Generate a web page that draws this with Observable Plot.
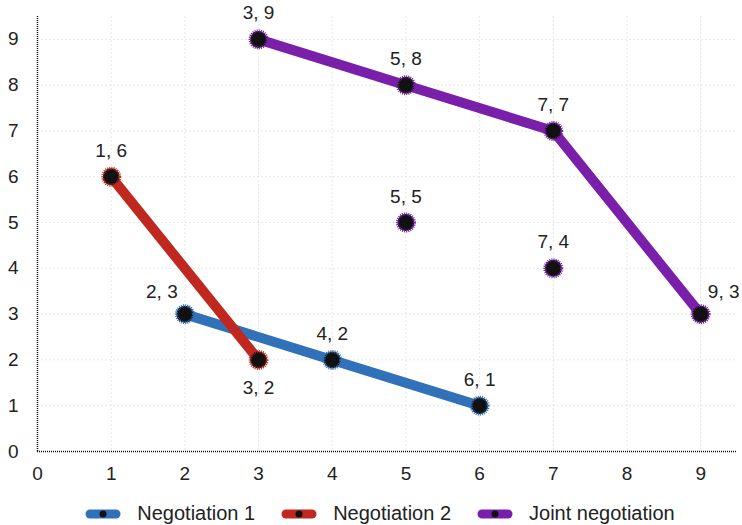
<!DOCTYPE html>
<html><head><meta charset="utf-8">
<script src="https://cdn.jsdelivr.net/npm/d3@7"></script>
<script src="https://cdn.jsdelivr.net/npm/@observablehq/plot@0.6"></script>
<style>
body{margin:0;background:#fff;font-family:"Liberation Sans",sans-serif;}
#legend{display:flex;justify-content:center;gap:26px;font-size:20px;color:#222;margin-top:12px;padding-left:18px}
#legend span.item{display:flex;align-items:center;gap:16px}
</style>
</head><body>
<div id="chart"></div>
<div id="legend"></div>
<script>
const seriesNames = ["Negotiation 1", "Negotiation 2", "Joint negotiation"];
const colors = ["#3171b9", "#c0281f", "#7a1fa9"];
const neg1X = [2, 4, 6], neg1Y = [3, 2, 1];
const neg2X = [1, 3], neg2Y = [6, 2];
const jointX = [3, 5, 7, 9], jointY = [9, 8, 7, 3];
const jointExtraX = [5, 7], jointExtraY = [5, 4];
const xTicks = [0,1,2,3,4,5,6,7,8,9];
const yTicks = [0,1,2,3,4,5,6,7,8,9];

const lineData = [
  ...neg1X.map((x,i)=>({x, y:neg1Y[i], s:seriesNames[0]})),
  ...neg2X.map((x,i)=>({x, y:neg2Y[i], s:seriesNames[1]})),
  ...jointX.map((x,i)=>({x, y:jointY[i], s:seriesNames[2]}))
];
const pointData = [
  ...lineData,
  ...jointExtraX.map((x,i)=>({x, y:jointExtraY[i], s:seriesNames[2]}))
];
function place(d){
  const k = d.x+","+d.y;
  if (d.s===seriesNames[1] && k==="3,2") return "below";
  if (k==="2,3") return "aboveleft";
  if (k==="9,3") return "aboveright";
  return "above";
}
const lbl = p => pointData.filter(d=>place(d)===p);
const fmt = d => d.x + ", " + d.y;
const font = {fontSize:19, fill:"#222"};

const chart = Plot.plot({
  width: 742, height: 490,
  marginLeft: 37, marginRight: 5, marginTop: 16, marginBottom: 39,
  style: {fontFamily: "'Liberation Sans', sans-serif", background: "#fff"},
  x: {domain: [0, 9.5], ticks: xTicks, label: null},
  y: {domain: [0, 9.5], ticks: yTicks, label: null},
  color: {domain: seriesNames, range: colors},
  marks: [
    Plot.ruleX(xTicks, {stroke: "#e0e0e0", strokeDasharray: "2,2", strokeWidth: 0.8}),
    Plot.ruleY(yTicks, {stroke: "#e0e0e0", strokeDasharray: "2,2", strokeWidth: 0.8}),
    Plot.ruleX([0], {stroke: "#111", strokeDasharray: "1,1", strokeWidth: 1.5}),
    Plot.ruleY([0], {stroke: "#111", strokeDasharray: "1,1", strokeWidth: 1.5}),
    Plot.axisX({ticks: xTicks, tickSize: 0, tickPadding: 15, fontSize: 19, fill: "#222", label: null}),
    Plot.axisY({ticks: yTicks, tickSize: 0, tickPadding: 19, fontSize: 19, fill: "#222", label: null}),
    Plot.line(lineData, {x: "x", y: "y", z: "s", stroke: "s", strokeWidth: 10, strokeLinecap: "butt"}),
    Plot.dot(pointData, {x: "x", y: "y", r: 8.5, fill: "#111", stroke: "s", strokeWidth: 3, strokeDasharray: "1,1"}),
    Plot.text(lbl("above"), {x: "x", y: "y", text: fmt, dy: -26, ...font}),
    Plot.text(lbl("below"), {x: "x", y: "y", text: fmt, dy: 28, ...font}),
    Plot.text(lbl("aboveleft"), {x: "x", y: "y", text: fmt, dx: -23, dy: -22, ...font}),
    Plot.text(lbl("aboveright"), {x: "x", y: "y", text: fmt, dx: 23, dy: -22, ...font})
  ]
});
document.getElementById("chart").appendChild(chart);

const legend = document.getElementById("legend");
seriesNames.forEach((n,i)=>{
  const it = document.createElement("span"); it.className="item";
  it.innerHTML = `<svg width="36" height="16"><line x1="5" y1="8" x2="31" y2="8" stroke="${colors[i]}" stroke-width="9" stroke-linecap="round"/><circle cx="18" cy="8" r="3.5" fill="#111"/></svg><span>${n}</span>`;
  legend.appendChild(it);
});
</script>
</body></html>
